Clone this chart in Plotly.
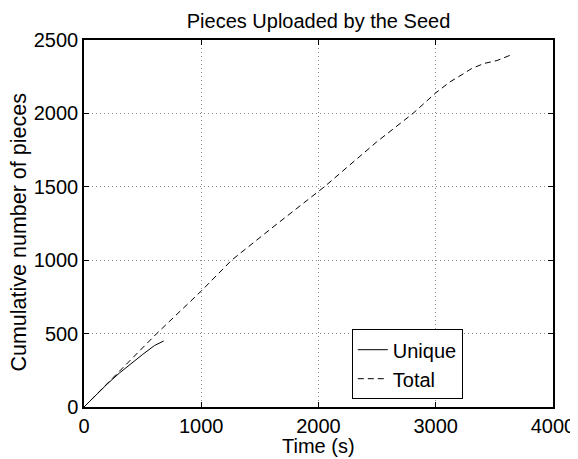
import plotly.graph_objects as go

# Data
unique_t = [0, 100, 200, 300, 400, 500, 600, 680]
unique_n = [0, 80, 158, 230, 297, 358, 418, 450]

total_t = [0, 300, 620, 1000, 1259, 1595, 2050, 2495, 2806, 3000, 3122, 3232, 3305, 3411, 3522, 3616, 3640]
total_n = [0, 245, 500, 790, 1000, 1215, 1500, 1805, 2000, 2140, 2215, 2268, 2305, 2340, 2360, 2390, 2398]

x_ticks = [0, 1000, 2000, 3000, 4000]
y_ticks = [0, 500, 1000, 1500, 2000, 2500]

FONT = "Liberation Sans, Arial, sans-serif"
FS = 20

fig = go.Figure()
fig.add_trace(go.Scatter(x=unique_t, y=unique_n, mode="lines", name="Unique",
                         line=dict(color="black", width=1, dash="solid")))
fig.add_trace(go.Scatter(x=total_t, y=total_n, mode="lines", name="Total",
                         line=dict(color="black", width=1, dash="6px,4px")))

axis_common = dict(
    showline=True, linecolor="black", linewidth=1.5, mirror="ticks",
    ticks="inside", ticklen=5, tickcolor="black",
    showgrid=True, gridcolor="#8a8a8a", griddash="1px,3px", gridwidth=1,
    zeroline=False, automargin=False,
    tickfont=dict(size=FS, color="black", family=FONT),
)

fig.update_xaxes(range=[0, 4000], tickvals=x_ticks, ticktext=[str(v) for v in x_ticks],
                 **axis_common)
fig.update_yaxes(range=[0, 2500], tickvals=y_ticks, ticktext=[str(v) for v in y_ticks],
                 **axis_common)

fig.add_annotation(text="Time (s)", xref="paper", yref="paper", x=0.5, y=-0.105,
                   xanchor="center", yanchor="middle", showarrow=False,
                   font=dict(size=FS, family=FONT, color="black"))
fig.add_annotation(text="Cumulative number of pieces", xref="paper", yref="paper",
                   x=-0.1375, y=0.474, xanchor="center", yanchor="middle",
                   textangle=-90, showarrow=False,
                   font=dict(size=21.5, family=FONT, color="black"))

# page body has an 8px margin, so the figure is shifted by 8px
fig.update_layout(
    width=570, height=451,
    margin=dict(l=76, r=25, t=32, b=52),
    paper_bgcolor="white", plot_bgcolor="white",
    font=dict(family=FONT, size=FS, color="black"),
    title=dict(text="Pieces Uploaded by the Seed", x=0.5, xanchor="center",
               xref="paper", y=0.972, yanchor="middle",
               font=dict(size=FS, family=FONT, color="black")),
    showlegend=True,
    legend=dict(x=0.571, y=0.212, xanchor="left", yanchor="top",
                bordercolor="black", borderwidth=1, bgcolor="white",
                font=dict(size=FS, family=FONT, color="black"),
                tracegroupgap=0, itemwidth=30),
)

fig.write_html("out.html")
